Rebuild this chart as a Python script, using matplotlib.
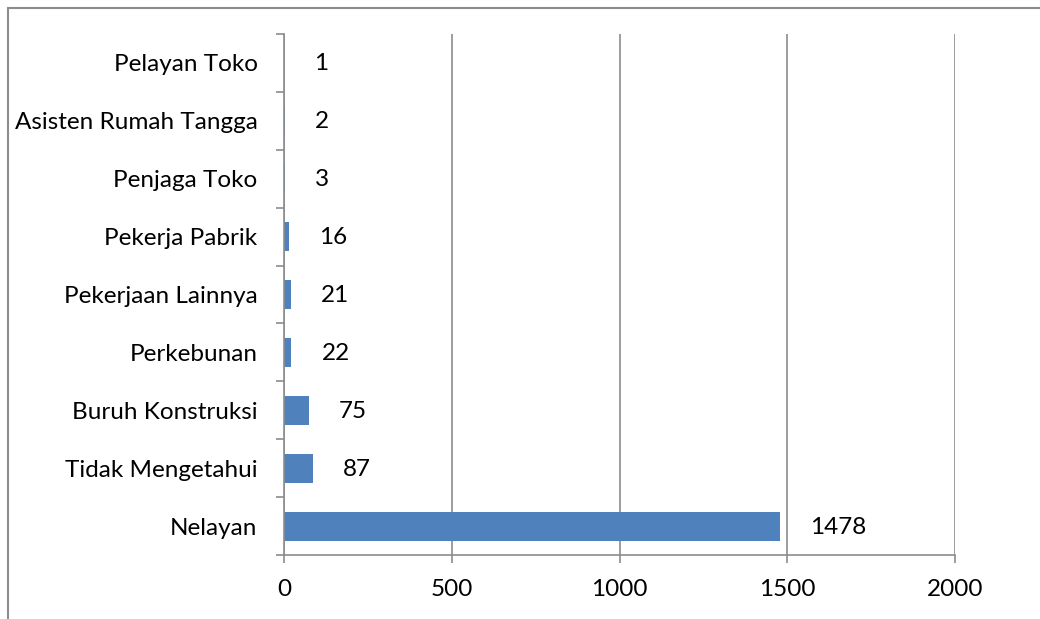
import matplotlib
matplotlib.use("Agg")
from matplotlib import pyplot as plt
from matplotlib.patches import Rectangle
import numpy as np

categories = ["Nelayan", "Tidak Mengetahui", "Buruh Konstruksi", "Perkebunan",
              "Pekerjaan Lainnya", "Pekerja Pabrik", "Penjaga Toko",
              "Asisten Rumah Tangga", "Pelayan Toko"]
values = [1478, 87, 75, 22, 21, 16, 3, 2, 1]
xticks = [0, 500, 1000, 1500, 2000]

plt.rcParams["font.family"] = ["Lato", "DejaVu Sans"]
gray = "#8c8c8c"
fs = 17.5

fig = plt.figure(figsize=(10.4, 6.19), dpi=100)
ax = fig.add_axes([284 / 1040, 64 / 619, 671 / 1040, 521 / 619])

y = np.arange(len(categories))
ax.barh(y, values, height=0.5, color="#4f81bd")

for yi, v in zip(y, values):
    ax.annotate(str(v), (v, yi), xytext=(30, -1), textcoords="offset pixels",
                ha="left", va="center", fontsize=fs)

ax.set_xlim(0, 2000)
ax.set_ylim(-0.5, len(categories) - 0.5)
ax.set_xticks(xticks)
ax.set_xticklabels([str(t) for t in xticks], fontsize=fs)
ax.set_yticks(y)
ax.set_yticklabels(categories, fontsize=fs)
ax.set_yticks(np.arange(len(categories) + 1) - 0.5, minor=True)
ax.tick_params(axis="y", which="major", length=0, pad=19)
ax.tick_params(axis="y", which="minor", length=6, color=gray, width=1.2, direction="out")
ax.tick_params(axis="x", length=6, color=gray, width=1.2, pad=11)

ax.grid(axis="x", color=gray, linewidth=1.2)
ax.set_axisbelow(True)
for s in ["top", "right"]:
    ax.spines[s].set_visible(False)
for s in ["left", "bottom"]:
    ax.spines[s].set_color(gray)
    ax.spines[s].set_linewidth(1.2)

fig.patches.append(Rectangle((8 / 1040, -0.1), 1.2, 0.1 + (619 - 8) / 619,
                             transform=fig.transFigure, fill=False,
                             edgecolor=gray, linewidth=1.5))

fig.savefig("out.png", dpi=100)
